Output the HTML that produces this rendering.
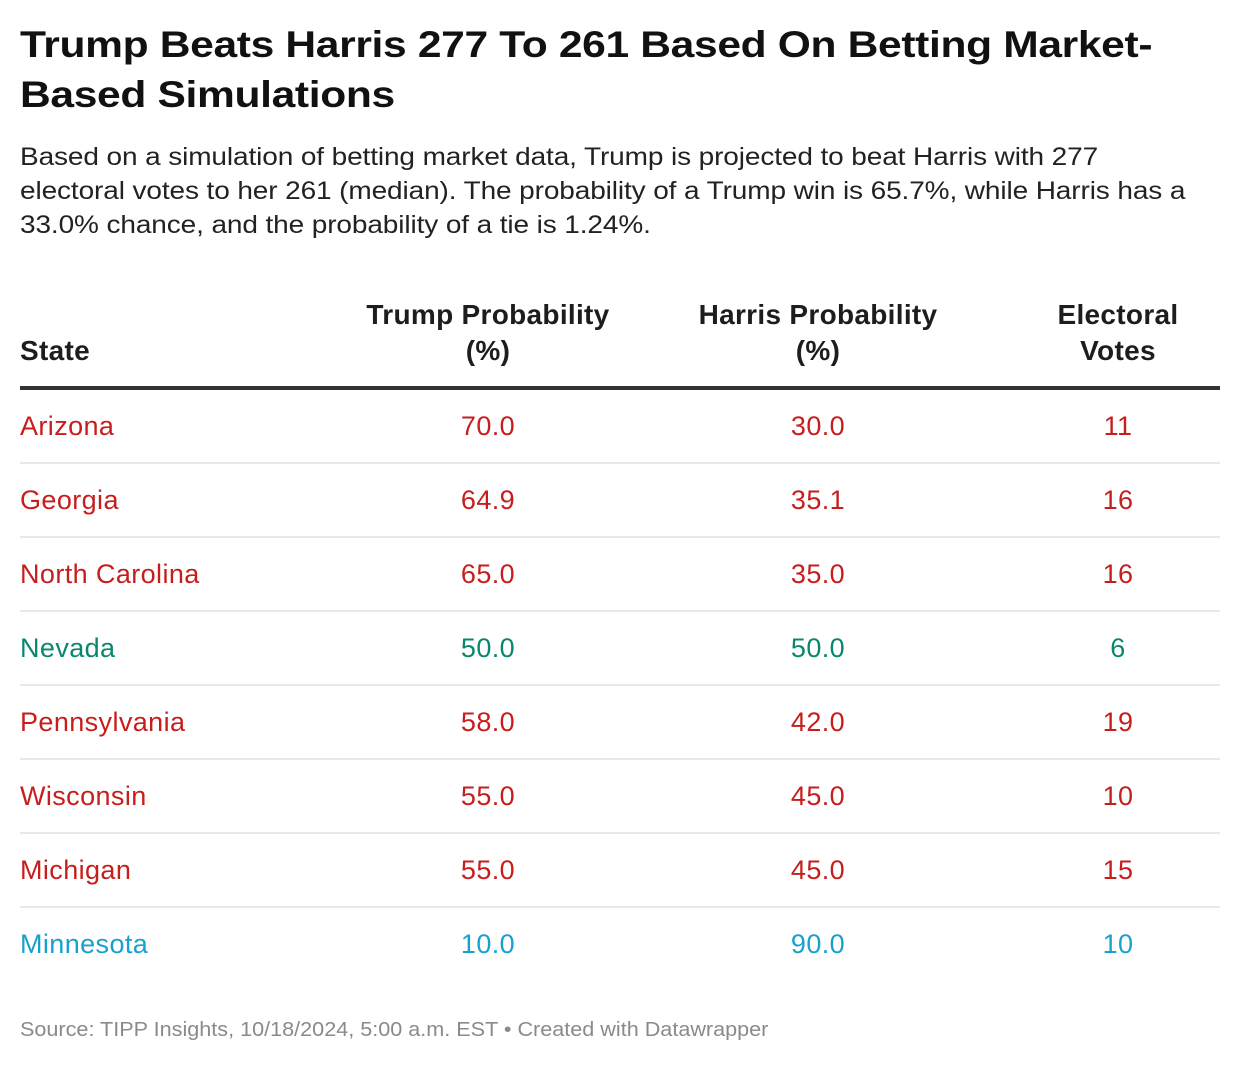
<!DOCTYPE html>
<html><head><meta charset="utf-8">
<style>
html,body{margin:0;padding:0;background:#fff;}
body{width:1240px;height:1066px;position:relative;overflow:hidden;font-family:"Liberation Sans",Arial,sans-serif;color:#1d1d1d;}
.abs{position:absolute;white-space:nowrap;}
#title{left:20px;top:20px;font-size:37px;font-weight:bold;line-height:50px;letter-spacing:-0.3px;color:#111;transform:scaleX(1.15);transform-origin:0 0;}
#desc{left:20px;top:140px;font-size:25px;line-height:34px;color:#222;letter-spacing:-0.1px;transform:scaleX(1.12);transform-origin:0 0;}
.hd{font-size:28px;font-weight:bold;line-height:36px;text-align:center;color:#1d1d1d;letter-spacing:0.3px;}
.cell{font-size:27px;line-height:30px;letter-spacing:0.4px;}
.c{text-align:center;width:300px;margin-left:-150px;}
.sep{position:absolute;left:20px;width:1200px;height:2px;background:#e9e9e9;}
#footer{left:20px;top:1019px;font-size:20px;color:#8a8a8a;transform:scaleX(1.08);transform-origin:0 0;}
</style></head>
<body>
<div id="title" class="abs">Trump Beats Harris 277 To 261 Based On Betting Market-<br>Based Simulations</div>
<div id="desc" class="abs">Based on a simulation of betting market data, Trump is projected to beat Harris with 277<br>electoral votes to her 261 (median). The probability of a Trump win is 65.7%, while Harris has a<br>33.0% chance, and the probability of a tie is 1.24%.</div>

<div class="abs hd" style="left:20px;top:333px;text-align:left">State</div>
<div class="abs hd c" style="left:488px;top:297px">Trump Probability<br>(%)</div>
<div class="abs hd c" style="left:818px;top:297px">Harris Probability<br>(%)</div>
<div class="abs hd c" style="left:1118px;top:297px">Electoral<br>Votes</div>
<div class="abs" style="left:20px;top:386px;width:1200px;height:4px;background:#333"></div>

<div id="rows"></div>

<div id="footer" class="abs">Source: TIPP Insights, 10/18/2024, 5:00 a.m. EST • Created with Datawrapper</div>

<script>
const states = ["Arizona","Georgia","North Carolina","Nevada","Pennsylvania","Wisconsin","Michigan","Minnesota"];
const trumpProb = ["70.0","64.9","65.0","50.0","58.0","55.0","55.0","10.0"];
const harrisProb = ["30.0","35.1","35.0","50.0","42.0","45.0","45.0","90.0"];
const electoralVotes = ["11","16","16","6","19","10","15","10"];
const leaning = ["r","r","r","t","r","r","r","d"];

const colors = {r:"#c71e1d", t:"#09876e", d:"#18a1cd"};
const root = document.getElementById('rows');
const rowH = 74, firstTop = 411;
states.forEach((s,i)=>{
  const top = firstTop + i*rowH;
  const col = colors[leaning[i]];
  const mk = (txt,left,center,name)=>{
    const d = document.createElement('div');
    d.className = 'abs cell' + (center?' c':'');
    d.style.left = left+'px'; d.style.top = top+'px'; d.style.color = col;
    d.textContent = txt;
    
    
    root.appendChild(d);
  };
  const slug = s.toLowerCase().replace(/ /g,'-');
  mk(s,20,false,slug+'-state-name');
  mk(trumpProb[i],488,true,slug+'-trump-probability');
  mk(harrisProb[i],818,true,slug+'-harris-probability');
  mk(electoralVotes[i],1118,true,slug+'-electoral-votes');
  if(i<states.length-1){
    const sep = document.createElement('div');
    sep.className='sep';
    sep.style.top = (top+51)+'px';
    
    
    root.appendChild(sep);
  }
});
</script>
</body></html>
